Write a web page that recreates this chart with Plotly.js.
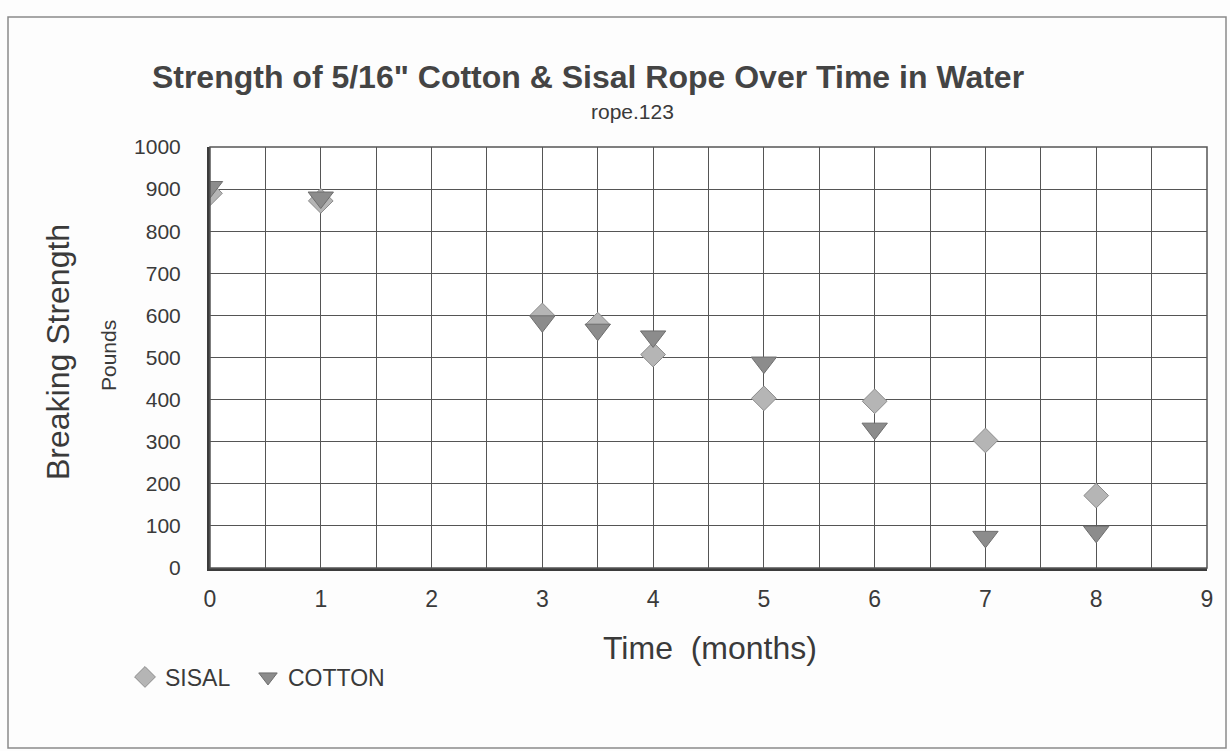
<!DOCTYPE html>
<html>
<head>
<meta charset="utf-8">
<script src="https://cdn.plot.ly/plotly-3.0.1.min.js"></script>
<style>
html,body{margin:0;padding:0;background:#fdfdfd;}
#chart{width:1230px;height:751px;}
</style>
</head>
<body>
<div id="chart"></div>
<script>
// Data
const months = [0, 1, 3, 3.5, 4, 5, 6, 7, 8];
const sisal  = [890, 872, 600, 578, 507, 403, 396, 303, 172];
const cotton = [905, 880, 586, 566, 550, 488, 331, 74, 86];
const seriesNames = ["SISAL", "COTTON"];
const xTickVals = [0, 1, 2, 3, 4, 5, 6, 7, 8, 9];
const xTickText = ["0", "1", "2", "3", "4", "5", "6", "7", "8", "9"];
const yTickVals = [0, 100, 200, 300, 400, 500, 600, 700, 800, 900, 1000];
const yTickText = ["0", "100", "200", "300", "400", "500", "600", "700", "800", "900", "1000"];

const W = 1230, H = 751;
const M = {l: 210, r: 23, t: 147, b: 183};
const PW = W - M.l - M.r, PH = H - M.t - M.b;
const px = x => (x - M.l) / PW;           // pixel -> paper x
const py = y => (H - M.b - y) / PH;       // pixel -> paper y

const FONT = "Liberation Sans, Arial, Helvetica, sans-serif";
const TXT = "#3a3a3a";
const NBSP = "\u00a0";

const traces = [
  {
    x: months, y: sisal, name: seriesNames[0] + NBSP + NBSP, type: "scatter", mode: "markers",
    marker: {symbol: "diamond", size: 19, color: "#b5b5b5",
             line: {color: "#8c8c8c", width: 1}}
  },
  {
    x: months, y: cotton, name: seriesNames[1], type: "scatter", mode: "markers",
    marker: {symbol: "triangle-down", size: 22, color: "#8c8c8c",
             line: {color: "#6e6e6e", width: 1}}
  }
];

const layout = {
  width: W, height: H,
  margin: M,
  paper_bgcolor: "#fdfdfd",
  plot_bgcolor: "#ffffff",
  font: {family: FONT, color: TXT},
  showlegend: true,
  title: {
    text: "<b>Strength of 5/16\" Cotton &amp; Sisal Rope Over Time in Water</b>",
    font: {family: FONT, size: 32, color: "#444"},
    xref: "container", yref: "container",
    x: 588 / W, y: 1 - 77 / H, xanchor: "center", yanchor: "middle"
  },
  xaxis: {
    range: [0, 9],
    tickvals: xTickVals, ticktext: xTickText,
    tickfont: {size: 23, color: TXT},
    ticks: "", ticklabelstandoff: 8,
    showgrid: true, gridcolor: "#555555", gridwidth: 1,
    minor: {dtick: 0.5, showgrid: true, gridcolor: "#555555", gridwidth: 1},
    showline: true, linecolor: "#3c3c3c", linewidth: 3,
    zeroline: false, fixedrange: true
  },
  yaxis: {
    range: [0, 1000],
    tickvals: yTickVals, ticktext: yTickText,
    tickfont: {size: 21, color: TXT},
    ticks: "", ticklabelstandoff: 22,
    showgrid: true, gridcolor: "#555555", gridwidth: 1,
    showline: true, linecolor: "#3c3c3c", linewidth: 3,
    zeroline: false, fixedrange: true
  },
  legend: {
    orientation: "h",
    xref: "container", yref: "container",
    x: 125 / W, y: 1 - 677 / H, xanchor: "left", yanchor: "middle",
    font: {size: 23, color: TXT},
    bgcolor: "rgba(0,0,0,0)"
  },
  annotations: [
    {text: "rope.123", xref: "paper", yref: "paper", x: px(632), y: py(112),
     showarrow: false, font: {size: 21, color: TXT}, xanchor: "center", yanchor: "middle"},
    {text: "Breaking Strength", xref: "paper", yref: "paper", x: px(58), y: py(352),
     textangle: -90, showarrow: false, font: {size: 32, color: TXT},
     xanchor: "center", yanchor: "middle"},
    {text: "Pounds", xref: "paper", yref: "paper", x: px(108), y: py(356),
     textangle: -90, showarrow: false, font: {size: 21, color: TXT},
     xanchor: "center", yanchor: "middle"},
    {text: "Time  (months)", xref: "paper", yref: "paper", x: px(710), y: py(648),
     showarrow: false, font: {size: 32, color: TXT},
     xanchor: "center", yanchor: "middle"}
  ],
  shapes: [
    {type: "rect", xref: "paper", yref: "paper", x0: px(8), x1: px(1226), y0: py(748), y1: py(17),
     line: {color: "#8a8a8a", width: 1.5}, layer: "below"},
    {type: "rect", xref: "paper", yref: "paper", x0: 0, x1: 1, y0: 0, y1: 1,
     line: {color: "#555555", width: 1.5}, layer: "above"}
  ]
};

Plotly.newPlot("chart", traces, layout, {displayModeBar: false, staticPlot: true});
</script>
</body>
</html>
